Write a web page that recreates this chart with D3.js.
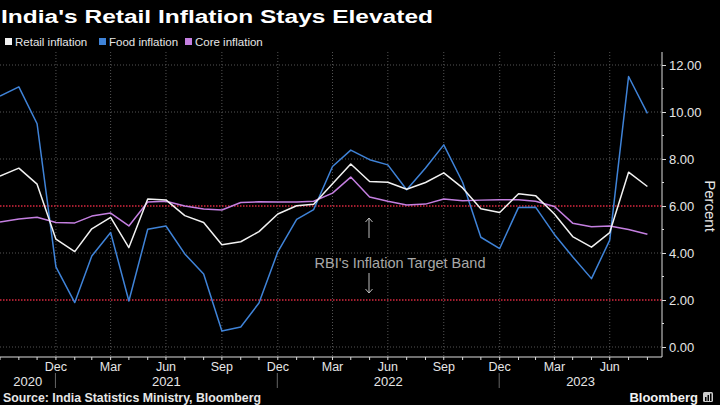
<!DOCTYPE html>
<html><head><meta charset="utf-8">
<script src="https://cdn.jsdelivr.net/npm/d3@7"></script>
<style>
html,body{margin:0;padding:0;background:#000;}
svg{display:block;}
text{font-family:"Liberation Sans",Arial,sans-serif;}
</style></head>
<body>
<svg id="c" width="720" height="405"></svg>
<script>
// ---- data ----
const months = ["2020-09","2020-10","2020-11","2020-12","2021-01","2021-02","2021-03","2021-04","2021-05","2021-06","2021-07","2021-08","2021-09","2021-10","2021-11","2021-12","2022-01","2022-02","2022-03","2022-04","2022-05","2022-06","2022-07","2022-08","2022-09","2022-10","2022-11","2022-12","2023-01","2023-02","2023-03","2023-04","2023-05","2023-06","2023-07","2023-08"];
const retail = [7.27,7.61,6.93,4.59,4.06,5.03,5.52,4.23,6.30,6.26,5.59,5.30,4.35,4.48,4.91,5.66,6.01,6.07,6.95,7.79,7.04,7.01,6.71,7.00,7.41,6.77,5.88,5.72,6.52,6.44,5.66,4.70,4.25,4.87,7.44,6.83];
const food = [10.68,11.07,9.50,3.41,1.89,3.87,4.87,1.96,5.01,5.15,3.96,3.11,0.68,0.85,1.87,4.05,5.43,5.85,7.68,8.38,7.97,7.75,6.69,7.62,8.60,7.01,4.67,4.19,5.94,5.95,4.79,3.84,2.91,4.55,11.51,9.94];
const core = [5.32,5.45,5.52,5.30,5.28,5.57,5.70,5.15,6.17,6.20,6.00,5.87,5.83,6.15,6.18,6.17,6.17,6.20,6.55,7.23,6.38,6.20,6.04,6.08,6.30,6.22,6.25,6.27,6.27,6.20,5.98,5.27,5.12,5.15,5.00,4.80];
const seriesNames = ["Retail inflation","Food inflation","Core inflation"];
const yTicks = [0,2,4,6,8,10,12];
const targetBand = [2,6];
const years = ["2020","2021","2022","2023"];
const title = "India's Retail Inflation Stays Elevated";
const source = "Source: India Statistics Ministry, Bloomberg";
const annotation = "RBI's Inflation Target Band";

// ---- layout ----
const svg = d3.select("#c");
const W = 720, H = 405;
const L = 0, R = 662, T = 52, B = 357;
const colors = ["#f2f2f2","#3f83d8","#c47fe0"];
const parse = d3.timeParse("%Y-%m");
const monthEnd = s => d3.timeDay.offset(d3.timeMonth.offset(parse(s),1),-1);
const dates = months.map(monthEnd);

const x = d3.scaleTime().domain([dates[0], d3.timeDay.offset(dates[dates.length-1],24)]).range([L,R]);
const y = d3.scaleLinear().domain([0,12]).range([347,65]);

svg.append("rect").attr("width",W).attr("height",H).attr("fill","#000");

// title
svg.append("text").attr("x",1).attr("y",23).attr("fill","#fff").attr("font-size",18)
  .attr("font-family","DejaVu Sans, sans-serif").attr("font-weight","bold")
  .attr("textLength",432).attr("lengthAdjust","spacingAndGlyphs").text(title);

// legend
const legX = [5,99,185];
seriesNames.forEach((n,i)=>{
  svg.append("rect").attr("x",legX[i]).attr("y",38).attr("width",7).attr("height",7).attr("fill",colors[i]);
  svg.append("text").attr("x",legX[i]+10).attr("y",46).attr("fill","#e6e6e6").attr("font-size",11.5).text(n);
});

// quarter grid
const quarterTicks = dates.filter(d=>[11,2,5,8].includes(d.getMonth()) && d>dates[0]);
svg.append("g").selectAll("line").data(quarterTicks).join("line")
  .attr("x1",d=>x(d)).attr("x2",d=>x(d)).attr("y1",T).attr("y2",B)
  .attr("stroke","#555").attr("stroke-width",1).attr("stroke-dasharray","1,2");

// horizontal grid
svg.append("g").selectAll("line").data(yTicks.filter(v=>!targetBand.includes(v))).join("line")
  .attr("x1",L).attr("x2",R).attr("y1",d=>y(d)).attr("y2",d=>y(d))
  .attr("stroke","#555").attr("stroke-width",1).attr("stroke-dasharray","1,2");

// target band lines
svg.append("g").selectAll("line").data(targetBand).join("line")
  .attr("x1",L).attr("x2",R).attr("y1",d=>y(d)).attr("y2",d=>y(d))
  .attr("stroke","#d8283f").attr("stroke-width",1.3).attr("stroke-dasharray","1.5,1.5");

// annotation
const annX = 369;
svg.append("text").attr("x",400).attr("y",268).attr("text-anchor","middle").attr("fill","#a8a8a8").attr("font-size",14.5).text(annotation);
const arrow = (x0,y0,y1)=>{
  const g = svg.append("g").attr("stroke","#bdbdbd").attr("stroke-width",1).attr("fill","none");
  g.append("line").attr("x1",x0).attr("x2",x0).attr("y1",y0).attr("y2",y1);
  const dir = y1<y0?1:-1;
  g.append("path").attr("d",`M${x0-3.5},${y1+4*dir} L${x0},${y1} L${x0+3.5},${y1+4*dir}`);
};
arrow(annX,238,218);
arrow(annX,273,293);

// lines
const allSeries = [retail, food, core];
const lineGen = d3.line().x((d,i)=>x(dates[i])).y(d=>y(d));
[1,2,0].forEach(si=>{
  svg.append("path").datum(allSeries[si]).attr("d",lineGen)
    .attr("fill","none").attr("stroke",colors[si]).attr("stroke-width",1.5).attr("stroke-linejoin","round");
});

// y axis
const yAxis = d3.axisRight(y).tickValues(yTicks).tickSize(4).tickPadding(3).tickFormat(d3.format(".2f"));
const ya = svg.append("g").attr("transform",`translate(${R},0)`).call(yAxis);
ya.select(".domain").attr("stroke","#ddd").attr("d",`M0,${T}V${B}`);
ya.selectAll(".tick line").attr("stroke","#ddd");
ya.selectAll(".tick text").attr("fill","#e6e6e6").attr("font-size",13).attr("font-family","Liberation Sans, Arial, sans-serif");
// minor y ticks
svg.append("g").selectAll("line").data(d3.range(1,12,2)).join("line")
  .attr("x1",R).attr("x2",R+2).attr("y1",d=>y(d)).attr("y2",d=>y(d)).attr("stroke","#ddd");

svg.append("text").attr("transform",`translate(705,206) rotate(90)`).attr("text-anchor","middle")
  .attr("fill","#e6e6e6").attr("font-size",15).text("Percent");

// x axis
svg.append("line").attr("x1",L).attr("x2",R).attr("y1",B).attr("y2",B).attr("stroke","#ddd");
svg.append("g").selectAll("line").data(dates.concat([d3.timeDay.offset(dates[0],-30)])).join("line")
  .attr("x1",d=>x(d)).attr("x2",d=>x(d)).attr("y1",B).attr("y2",B+3).attr("stroke","#ddd");
const mfmt = d3.timeFormat("%b");
svg.append("g").selectAll("text").data(quarterTicks).join("text")
  .attr("x",d=>x(d)).attr("y",371).attr("text-anchor","middle").attr("fill","#e6e6e6").attr("font-size",12.5)
  .text(d=>mfmt(d));

// year separators and labels
const decEnds = quarterTicks.filter(d=>d.getMonth()===11);
const yearBounds = [L].concat(decEnds.map(d=>x(d)-0.5)).concat([662]);
svg.append("g").selectAll("line").data(yearBounds.slice(1,4)).join("line")
  .attr("x1",d=>d).attr("x2",d=>d).attr("y1",373).attr("y2",388).attr("stroke","#666");
svg.append("g").selectAll("text").data(years).join("text")
  .attr("x",(d,i)=>(yearBounds[i]+yearBounds[i+1])/2).attr("y",386).attr("text-anchor","middle")
  .attr("fill","#e6e6e6").attr("font-size",13).text(d=>d);

// source
svg.append("text").attr("x",3).attr("y",402).attr("fill","#e6e6e6").attr("font-size",12).attr("font-weight","bold")
  .attr("textLength",258).attr("lengthAdjust","spacingAndGlyphs").text(source);
svg.append("text").attr("x",698).attr("y",402).attr("text-anchor","end").attr("fill","#f2f2f2").attr("font-size",13).attr("font-weight","bold").text("Bloomberg");
const lg = svg.append("g").attr("transform","translate(703,392)");
lg.append("rect").attr("width",10).attr("height",10).attr("rx",1.5).attr("fill","#ccc");
lg.append("rect").attr("x",2).attr("y",5).attr("width",1.5).attr("height",4).attr("fill","#000");
lg.append("rect").attr("x",4.5).attr("y",3).attr("width",1.5).attr("height",6).attr("fill","#000");
lg.append("rect").attr("x",7).attr("y",1.5).attr("width",1.5).attr("height",7.5).attr("fill","#000");
</script>
</body></html>
